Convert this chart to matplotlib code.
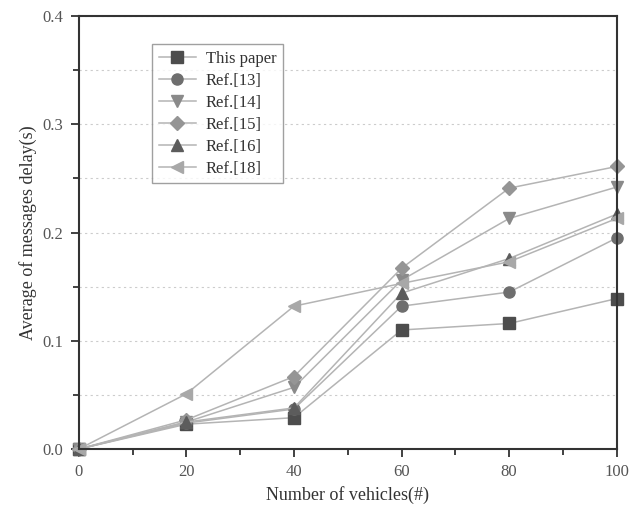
import matplotlib.pyplot as plt
from matplotlib.ticker import MultipleLocator, FormatStrFormatter

plt.rcParams['font.family'] = ['Liberation Serif', 'DejaVu Serif']

vehicles = [0, 20, 40, 60, 80, 100]
this_paper = [0, 0.023, 0.029, 0.110, 0.116, 0.139]
ref13 = [0, 0.024, 0.037, 0.132, 0.145, 0.195]
ref14 = [0, 0.025, 0.057, 0.156, 0.213, 0.242]
ref15 = [0, 0.027, 0.067, 0.167, 0.241, 0.261]
ref16 = [0, 0.025, 0.038, 0.144, 0.176, 0.217]
ref18 = [0, 0.051, 0.132, 0.153, 0.173, 0.213]

series = [
    ("This paper", this_paper, "s", "#4d4d4d"),
    ("Ref.[13]", ref13, "o", "#6e6e6e"),
    ("Ref.[14]", ref14, "v", "#8a8a8a"),
    ("Ref.[15]", ref15, "D", "#959595"),
    ("Ref.[16]", ref16, "^", "#5c5c5c"),
    ("Ref.[18]", ref18, "<", "#a8a8a8"),
]

fig = plt.figure(figsize=(6.3, 5.15), dpi=100)
ax = fig.add_axes([0.125, 0.128, 0.854, 0.841])

for name, vals, mk, col in series:
    ms = 7 if mk == "D" else 8
    ax.plot(vehicles, vals, color="#b4b4b4", lw=1.1, marker=mk, ms=ms,
            markerfacecolor=col, markeredgecolor=col, label=name, clip_on=False)

ax.set_xlim(0, 100)
ax.set_ylim(0, 0.4)
ax.xaxis.set_major_locator(MultipleLocator(20))
ax.xaxis.set_minor_locator(MultipleLocator(10))
ax.yaxis.set_major_locator(MultipleLocator(0.1))
ax.yaxis.set_minor_locator(MultipleLocator(0.05))
ax.yaxis.set_major_formatter(FormatStrFormatter('%.1f'))
ax.grid(True, which='both', axis='y', ls=(0, (2, 3)), color='#cccccc', lw=0.8)
ax.set_axisbelow(True)
ax.tick_params(which='major', direction='out', length=6, width=1.3, pad=5,
               labelsize=12, colors='#333333', labelcolor='#555555')
ax.tick_params(which='minor', direction='out', length=4, width=1.3, colors='#333333')
for s in ax.spines.values():
    s.set_linewidth(1.5)
    s.set_color('#333333')

ax.set_xlabel("Number of vehicles(#)", fontsize=13, color='#333333')
ax.set_ylabel("Average of messages delay(s)", fontsize=13, color='#333333')

leg = ax.legend(loc='upper left', bbox_to_anchor=(0.137, 0.935), borderaxespad=0,
                fontsize=12, frameon=True, fancybox=False, edgecolor='#888888',
                handlelength=2.2, handletextpad=0.6, labelspacing=0.36, borderpad=0.4)
leg.get_frame().set_linewidth(1.0)
for t in leg.get_texts():
    t.set_color('#333333')

fig.savefig("out.png", dpi=100)
